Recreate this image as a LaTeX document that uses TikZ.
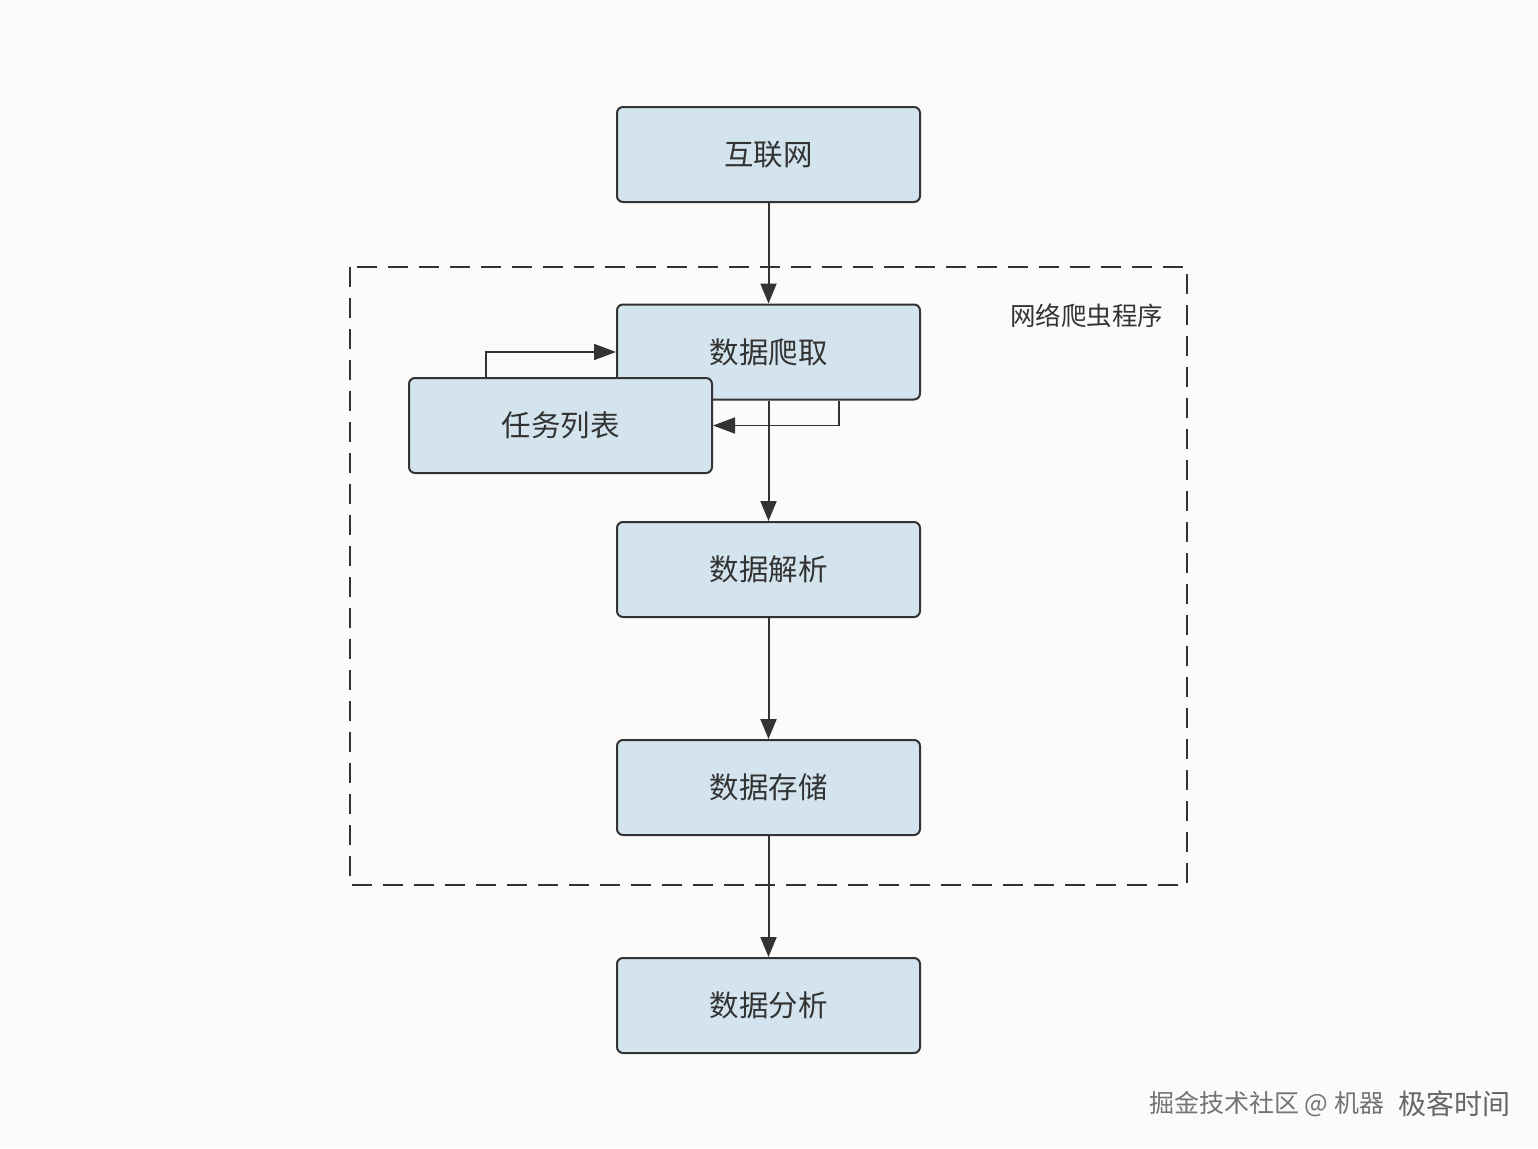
\documentclass[tikz,border=0pt]{standalone}
\usepackage{fontspec}
\setmainfont{Noto Sans CJK SC}
\usetikzlibrary{arrows.meta}
\definecolor{bg}{HTML}{FCFBFA}
\definecolor{boxfill}{HTML}{D4E4EE}
\definecolor{ink}{HTML}{333333}
\tikzset{
  box/.style={draw=ink, fill=boxfill, line width=2pt, rounded corners=6pt,
    minimum width=303pt, minimum height=95pt, inner sep=0pt,
    text=ink, font=\fontsize{29.5}{33}\selectfont},
  arr/.style={draw=ink, line width=2pt, -{Triangle[width=16pt,length=20pt]}},
  thin arr/.style={draw=ink, line width=1.6pt, -{Triangle[width=16pt,length=22pt]}},
  frame/.style={draw=ink, line width=2pt, dash pattern=on 20pt off 11pt},
}
\begin{document}
\begin{tikzpicture}[x=1pt,y=-1pt]
\fill[bg] (0,0) rectangle (1538,1148);
\useasboundingbox (0,0) rectangle (1538,1148);
\draw[frame] (350,267) rectangle (1187,885);
\node[anchor=east, text=ink, font=\fontsize{25.5}{29}\selectfont] (label) at (1167,316) {网络爬虫程序};
\node[box] (inet) at (768.5,154.5) {互联网};
\node[box] (crawl) at (768.5,352) {数据爬取};
\node[box] (task) at (560.5,425.5) {任务列表};
\node[box] (parse) at (768.5,569.5) {数据解析};
\node[box] (store) at (768.5,787.5) {数据存储};
\node[box] (anal) at (768.5,1005.5) {数据分析};
\draw[arr] (inet) -- (crawl);
\draw[arr] (crawl) -- (parse);
\draw[arr] (parse) -- (store);
\draw[arr] (store) -- (anal);
\draw[thin arr] ([xshift=78pt]task.north west) |- (crawl.west);
\draw[thin arr] ([xshift=-82pt]crawl.south east) |- (task.east);
\node[anchor=west, text=black!55, font=\fontsize{25}{29}\selectfont, inner sep=0pt] (wm) at (1149,1104) {掘金技术社区 @ 机器};
\node[anchor=west, text=black!60, font=\fontsize{28}{32}\selectfont, inner sep=0pt] (wm2) at (1398,1104) {极客时间};
\end{tikzpicture}
\end{document}
